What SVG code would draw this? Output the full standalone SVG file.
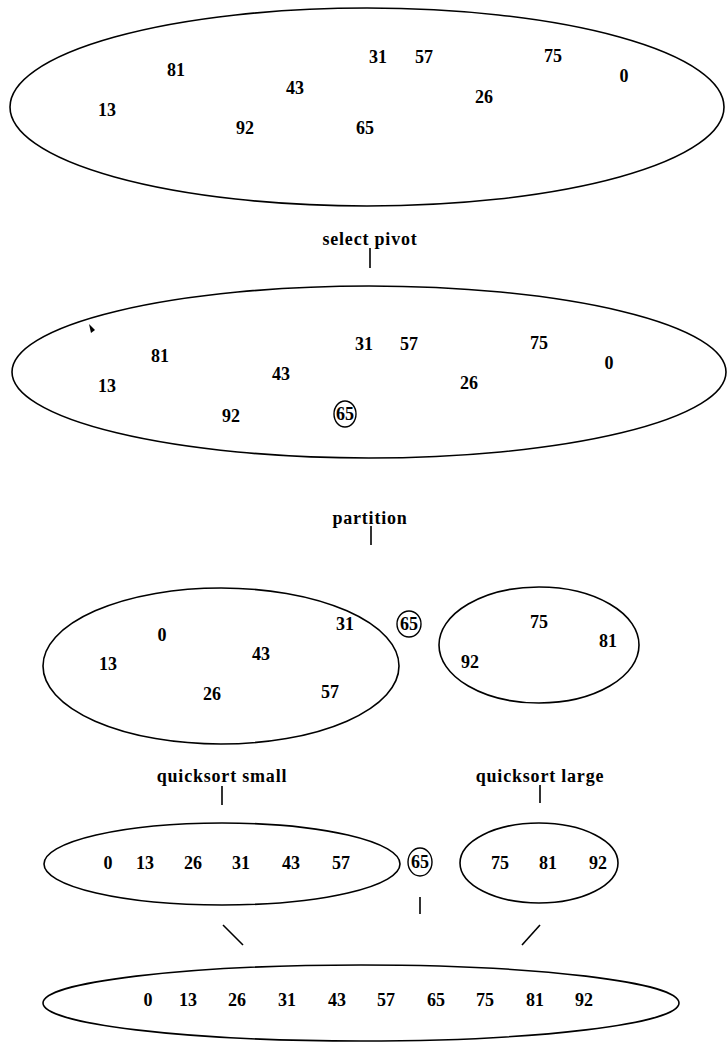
<svg xmlns="http://www.w3.org/2000/svg" width="727" height="1043" viewBox="0 0 727 1043">
<style>
.set{fill:none;stroke:#000;stroke-width:1.6}
.piv{fill:none;stroke:#000;stroke-width:1.4}
.n{font-family:"Liberation Serif",serif;font-size:18px;font-weight:bold;fill:#000;text-anchor:middle}
.lbl{font-family:"Liberation Serif",serif;font-size:18px;font-weight:bold;fill:#000;text-anchor:middle;letter-spacing:0.8px}
.con{fill:none;stroke:#000;stroke-width:1.6}
</style>
<g id="set-initial">
<ellipse class="set" cx="367" cy="107" rx="357" ry="99"/>
<text class="n" x="176" y="76">81</text>
<text class="n" x="107" y="116">13</text>
<text class="n" x="245" y="134">92</text>
<text class="n" x="295" y="94">43</text>
<text class="n" x="378" y="63">31</text>
<text class="n" x="424" y="63">57</text>
<text class="n" x="365" y="134">65</text>
<text class="n" x="553" y="62">75</text>
<text class="n" x="624" y="82">0</text>
<text class="n" x="484" y="103">26</text>
</g>
<g id="set-pivot">
<ellipse class="set" cx="369" cy="372" rx="357" ry="86"/>
<path d="M89,324 L95,330 L91,333 Z" fill="#000"/>
<text class="n" x="160" y="362">81</text>
<text class="n" x="107" y="392">13</text>
<text class="n" x="231" y="422">92</text>
<text class="n" x="281" y="380">43</text>
<text class="n" x="364" y="350">31</text>
<text class="n" x="409" y="350">57</text>
<text class="n" x="539" y="349">75</text>
<text class="n" x="609" y="369">0</text>
<text class="n" x="469" y="389">26</text>
<ellipse class="piv" cx="345" cy="414" rx="11" ry="13"/>
<text class="n" x="345" y="420">65</text>
</g>
<g id="set-small">
<ellipse class="set" cx="221" cy="666" rx="178" ry="78"/>
<text class="n" x="162" y="641">0</text>
<text class="n" x="108" y="670">13</text>
<text class="n" x="261" y="660">43</text>
<text class="n" x="212" y="700">26</text>
<text class="n" x="330" y="698">57</text>
<text class="n" x="345" y="630">31</text>
</g>
<g id="pivot-mid">
<ellipse class="piv" cx="409" cy="624" rx="12" ry="13"/>
<text class="n" x="409" y="630">65</text>
</g>
<g id="set-large">
<ellipse class="set" cx="539" cy="645" rx="100" ry="58"/>
<text class="n" x="539" y="628">75</text>
<text class="n" x="608" y="647">81</text>
<text class="n" x="470" y="668">92</text>
</g>
<g id="sorted-small">
<ellipse class="set" cx="222" cy="864" rx="178" ry="41"/>
<text class="n" x="108" y="869">0</text>
<text class="n" x="145" y="869">13</text>
<text class="n" x="193" y="869">26</text>
<text class="n" x="241" y="869">31</text>
<text class="n" x="291" y="869">43</text>
<text class="n" x="341" y="869">57</text>
</g>
<g id="pivot-low">
<ellipse class="piv" cx="420" cy="862" rx="12" ry="14"/>
<text class="n" x="420" y="868">65</text>
</g>
<g id="sorted-large">
<ellipse class="set" cx="539" cy="863" rx="79" ry="40"/>
<text class="n" x="500" y="869">75</text>
<text class="n" x="548" y="869">81</text>
<text class="n" x="598" y="869">92</text>
</g>
<g id="result">
<ellipse class="set" cx="361" cy="1003" rx="318" ry="38"/>
<text class="n" x="148" y="1006">0</text>
<text class="n" x="188" y="1006">13</text>
<text class="n" x="237" y="1006">26</text>
<text class="n" x="287" y="1006">31</text>
<text class="n" x="337" y="1006">43</text>
<text class="n" x="386" y="1006">57</text>
<text class="n" x="436" y="1006">65</text>
<text class="n" x="485" y="1006">75</text>
<text class="n" x="535" y="1006">81</text>
<text class="n" x="584" y="1006">92</text>
</g>
<g id="connectors">
<text class="lbl" x="370" y="245">select pivot</text>
<line class="con" x1="370" y1="248" x2="370" y2="268"/>
<text class="lbl" x="370" y="524">partition</text>
<line class="con" x1="371" y1="526" x2="371" y2="545"/>
<text class="lbl" x="222" y="782">quicksort small</text>
<line class="con" x1="222" y1="786" x2="222" y2="805"/>
<text class="lbl" x="540" y="782">quicksort large</text>
<line class="con" x1="540" y1="785" x2="540" y2="803"/>
<line class="con" x1="420" y1="897" x2="420" y2="914"/>
<line class="con" x1="223" y1="925" x2="243" y2="945"/>
<line class="con" x1="540" y1="925" x2="522" y2="945"/>
</g>
</svg>
